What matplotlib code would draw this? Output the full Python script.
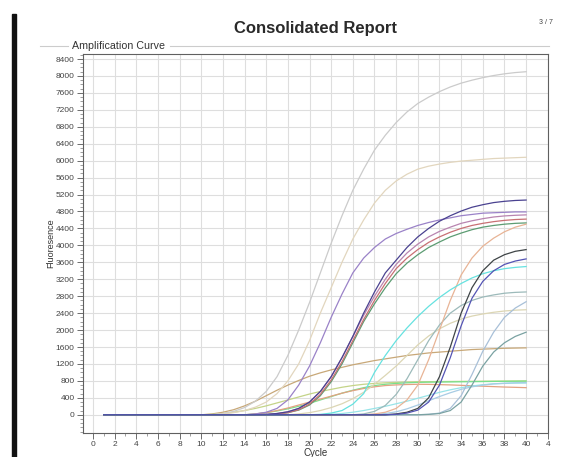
import matplotlib
matplotlib.use("Agg")
import matplotlib.pyplot as plt
from matplotlib.patches import Rectangle
from matplotlib.lines import Line2D
from matplotlib.ticker import MultipleLocator

plt.rcParams['font.family'] = ['Liberation Sans', 'DejaVu Sans']

# ---- data (fluorescence per cycle) ----
cycles = [1, 2, 3, 4, 5, 6, 7, 8, 9, 10, 11, 12, 13, 14, 15, 16, 17, 18, 19, 20,
          21, 22, 23, 24, 25, 26, 27, 28, 29, 30, 31, 32, 33, 34, 35, 36, 37, 38, 39, 40]

gray = [0, 0, 0, 0, 0, 0, 0, 0, 0, 0, 0, 30, 80, 170, 320, 550, 900, 1400, 2000, 2650,
        3350, 4050, 4700, 5300, 5800, 6250, 6600, 6900, 7150, 7350, 7500, 7630, 7740, 7830, 7900, 7960, 8010, 8050, 8080, 8100]
beige = [0, 0, 0, 0, 0, 0, 0, 0, 0, 0, 0, 20, 50, 100, 180, 300, 500, 800, 1200, 1750,
         2400, 3000, 3600, 4150, 4600, 5000, 5300, 5520, 5680, 5800, 5870, 5920, 5960, 5990, 6010, 6030, 6050, 6060, 6070, 6080]
purple = [0, 0, 0, 0, 0, 0, 0, 0, 0, 0, 0, 0, 0, 0, 20, 60, 150, 350, 700, 1150,
          1700, 2300, 2850, 3350, 3700, 3950, 4150, 4280, 4380, 4470, 4540, 4600, 4650, 4700, 4730, 4760, 4770, 4780, 4790, 4790]
indigo = [0, 0, 0, 0, 0, 0, 0, 0, 0, 0, 0, 0, 0, 0, 0, 10, 30, 70, 150, 300,
          550, 900, 1350, 1850, 2400, 2900, 3350, 3650, 3950, 4200, 4400, 4570, 4700, 4810, 4900, 4960, 5010, 5040, 5060, 5070]
mauve = [0, 0, 0, 0, 0, 0, 0, 0, 0, 0, 0, 0, 0, 0, 0, 10, 30, 70, 150, 300,
         550, 900, 1350, 1850, 2350, 2800, 3200, 3550, 3820, 4030, 4200, 4330, 4430, 4520, 4580, 4630, 4670, 4695, 4710, 4720]
red = [0, 0, 0, 0, 0, 0, 0, 0, 0, 0, 0, 0, 0, 0, 0, 0, 20, 50, 120, 250,
       480, 820, 1250, 1750, 2250, 2700, 3100, 3450, 3700, 3900, 4070, 4200, 4310, 4400, 4470, 4520, 4560, 4590, 4610, 4620]
green = [0, 0, 0, 0, 0, 0, 0, 0, 0, 0, 0, 0, 0, 0, 0, 0, 20, 50, 110, 230,
         450, 780, 1200, 1700, 2200, 2620, 3000, 3330, 3580, 3780, 3950, 4080, 4200, 4290, 4370, 4430, 4470, 4500, 4520, 4530]
salmon = [0, 0, 0, 0, 0, 0, 0, 0, 0, 0, 0, 0, 0, 0, 0, 0, 0, 0, 0, 0,
          0, 0, 0, 0, 0, 20, 60, 150, 350, 700, 1300, 2000, 2700, 3300, 3700, 3980, 4170, 4320, 4430, 4500]
cyan = [0, 0, 0, 0, 0, 0, 0, 0, 0, 0, 0, 0, 0, 0, 0, 0, 0, 0, 0, 0,
        10, 40, 100, 250, 500, 1000, 1400, 1750, 2050, 2320, 2560, 2770, 2950, 3100, 3230, 3330, 3400, 3450, 3480, 3500]
black = [0, 0, 0, 0, 0, 0, 0, 0, 0, 0, 0, 0, 0, 0, 0, 0, 0, 0, 0, 0,
         0, 0, 0, 0, 0, 0, 0, 20, 60, 150, 400, 900, 1600, 2400, 3000, 3400, 3650, 3780, 3860, 3900]
blue = [0, 0, 0, 0, 0, 0, 0, 0, 0, 0, 0, 0, 0, 0, 0, 0, 0, 0, 0, 0,
        0, 0, 0, 0, 0, 0, 0, 10, 40, 110, 300, 700, 1350, 2100, 2750, 3150, 3400, 3550, 3630, 3680]
grayteal = [0, 0, 0, 0, 0, 0, 0, 0, 0, 0, 0, 0, 0, 0, 0, 0, 0, 0, 0, 0,
            0, 0, 0, 0, 20, 80, 220, 480, 850, 1300, 1750, 2120, 2400, 2580, 2700, 2780, 2830, 2870, 2890, 2900]
khaki = [0, 0, 0, 0, 0, 0, 0, 0, 0, 0, 0, 0, 0, 0, 0, 0, 0, 0, 20, 50,
         100, 170, 260, 380, 530, 720, 930, 1150, 1400, 1650, 1860, 2030, 2160, 2260, 2330, 2380, 2420, 2450, 2470, 2480]
steel = [0, 0, 0, 0, 0, 0, 0, 0, 0, 0, 0, 0, 0, 0, 0, 0, 0, 0, 0, 0,
         0, 0, 0, 0, 0, 0, 0, 0, 0, 0, 10, 40, 150, 450, 950, 1500, 1950, 2300, 2520, 2670]
teal2 = [0, 0, 0, 0, 0, 0, 0, 0, 0, 0, 0, 0, 0, 0, 0, 0, 0, 0, 0, 0,
         0, 0, 0, 0, 0, 0, 0, 0, 0, 0, 10, 30, 100, 300, 700, 1150, 1480, 1700, 1850, 1950]
tan = [0, 0, 0, 0, 0, 0, 0, 0, 0, 0, 20, 60, 120, 210, 320, 450, 580, 700, 810, 910,
       990, 1060, 1120, 1180, 1230, 1280, 1320, 1360, 1400, 1430, 1460, 1480, 1500, 1520, 1540, 1550, 1560, 1570, 1575, 1580]
ygreen = [0, 0, 0, 0, 0, 0, 0, 0, 0, 0, 10, 30, 60, 100, 150, 210, 280, 350, 420, 490,
          550, 600, 650, 690, 720, 740, 755, 765, 775, 780, 782, 784, 786, 788, 790, 792, 794, 796, 798, 800]
bgreen = [0, 0, 0, 0, 0, 0, 0, 0, 0, 0, 0, 0, 0, 0, 20, 50, 90, 140, 200, 270,
          350, 430, 510, 580, 640, 690, 720, 740, 755, 765, 770, 773, 776, 779, 782, 785, 788, 790, 792, 795]
orange = [0, 0, 0, 0, 0, 0, 0, 0, 0, 0, 0, 0, 0, 0, 20, 50, 100, 160, 230, 300,
          370, 440, 510, 570, 620, 660, 690, 705, 715, 720, 718, 712, 705, 695, 685, 675, 665, 655, 648, 640]
lcyan = [0, 0, 0, 0, 0, 0, 0, 0, 0, 0, 0, 0, 0, 0, 0, 0, 0, 0, 0, 0,
         0, 10, 30, 60, 100, 150, 200, 260, 320, 390, 460, 530, 590, 640, 680, 710, 730, 740, 748, 750]
lblue = [0, 0, 0, 0, 0, 0, 0, 0, 0, 0, 0, 0, 0, 0, 0, 0, 0, 0, 0, 0,
         0, 0, 0, 0, 0, 10, 30, 70, 140, 230, 330, 430, 520, 600, 660, 700, 730, 745, 755, 760]

curves = [
    (tan, '#c8a878'), (ygreen, '#c4d488'), (bgreen, '#78e08c'), (orange, '#e2a282'),
    (lcyan, '#98e4e8'), (lblue, '#a8cce4'), (khaki, '#dcd6b4'), (grayteal, '#9cbaba'),
    (steel, '#a8c0d8'), (teal2, '#7aa2a2'), (gray, '#cbcbcb'), (beige, '#e2d6be'),
    (purple, '#9a82c8'), (green, '#5c9c72'), (red, '#c87074'), (mauve, '#b884b0'),
    (indigo, '#4a4290'), (salmon, '#e8b496'), (cyan, '#66e2e0'),
    (black, '#3e4446'), (blue, '#5454b4'),
]

xtick_pos = [0, 2, 4, 6, 8, 10, 12, 14, 16, 18, 20, 22, 24, 26, 28, 30, 32, 34, 36, 38, 40, 42]
xtick_lab = ['0', '2', '4', '6', '8', '10', '12', '14', '16', '18', '20', '22', '24', '26',
             '28', '30', '32', '34', '36', '38', '40', '4']
ytick_pos = [0, 400, 800, 1200, 1600, 2000, 2400, 2800, 3200, 3600, 4000, 4400,
             4800, 5200, 5600, 6000, 6400, 6800, 7200, 7600, 8000, 8400]

fig = plt.figure(figsize=(5.76, 4.57), dpi=100)
ax = fig.add_axes([0.144, 0.053, 0.807, 0.829])

for vals, col in curves:
    ax.plot(cycles, vals, color=col, linewidth=0.9)

ax.set_xlim(-0.92, 41.95)
ax.set_ylim(-425, 8520)
ax.set_xticks(xtick_pos)
ax.set_xticklabels(xtick_lab)
ax.set_yticks(ytick_pos)
ax.set_yticklabels([str(v) for v in ytick_pos])
ax.yaxis.set_minor_locator(MultipleLocator(100))
ax.xaxis.set_minor_locator(MultipleLocator(1))
ax.grid(True, color='#dedede', linewidth=0.8)
ax.set_axisbelow(True)
ax.tick_params(which='major', length=4, width=0.6, color='#555555', labelsize=6,
               labelcolor='#444444', pad=2)
ax.tick_params(which='minor', length=2, width=0.5, color='#777777')
for sp in ax.spines.values():
    sp.set_color('#606060')
    sp.set_linewidth(0.8)

ax.set_xlabel('Cycle', fontsize=7, color='#333333', labelpad=0)
ax.set_ylabel('Fluoresence', fontsize=6.5, color='#333333', labelpad=0.5)

# report decorations
fig.text(0.547, 0.938, 'Consolidated Report', ha='center', va='center',
         fontsize=12, fontweight='bold', color='#2a2a2a')
fig.text(0.948, 0.950, '3 / 7', ha='center', va='center', fontsize=5, color='#444444')
fig.text(0.125, 0.899, 'Amplification Curve', ha='left', va='center',
         fontsize=7.7, color='#333333')
fig.add_artist(Line2D([0.07, 0.118], [0.899, 0.899], color='#cccccc', lw=0.8))
fig.add_artist(Line2D([0.295, 0.953], [0.899, 0.899], color='#cccccc', lw=0.8))
fig.add_artist(Rectangle((0.021, 0.0), 0.007, 0.97, transform=fig.transFigure,
                         color='#111111'))

fig.savefig('out.png', dpi=100)
